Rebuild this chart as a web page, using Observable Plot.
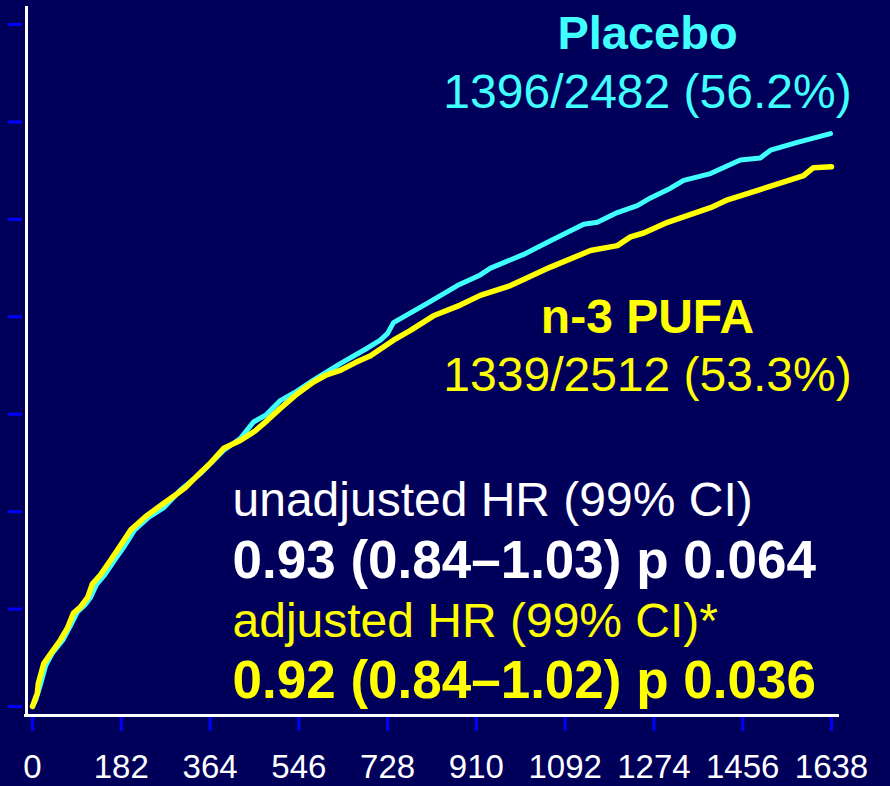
<!DOCTYPE html>
<html><head><meta charset="utf-8">
<script src="https://cdn.jsdelivr.net/npm/d3@7"></script>
<script src="https://cdn.jsdelivr.net/npm/@observablehq/plot@0.6"></script>
<style>
html,body{margin:0;padding:0;background:#00005a;}
#chart svg{display:block;}
</style>
</head><body><div id="chart"></div>
<script>
// ---- data ----
const xTicks = [0, 182, 364, 546, 728, 910, 1092, 1274, 1456, 1638];
const yTicks = [0, 0.1, 0.2, 0.3, 0.4, 0.5, 0.6, 0.7];

const placeboDays = [0, 6, 16, 27, 41, 62, 78, 92, 107, 119, 131, 148, 168, 189, 209, 238, 269, 303, 344, 392, 426, 453, 478, 508, 543, 576, 631, 687, 713, 728, 740, 775, 810, 871, 918, 939, 1007, 1062, 1130, 1158, 1199, 1240, 1267, 1308, 1335, 1390, 1451, 1492, 1513, 1568, 1636];
const placeboRisk = [0, .006, .022, .042, .055, .068, .083, .097, .104, .112, .125, .135, .150, .165, .181, .194, .204, .222, .239, .263, .275, .292, .299, .314, .324, .335, .352, .368, .376, .383, .394, .404, .414, .432, .443, .450, .464, .478, .495, .497, .507, .514, .522, .532, .540, .547, .561, .563, .571, .579, .588];

const pufaDays = [0, 10, 12, 23, 37, 57, 72, 84, 98, 113, 123, 139, 160, 180, 201, 232, 262, 293, 314, 344, 365, 392, 426, 457, 482, 508, 543, 576, 601, 631, 662, 693, 740, 775, 822, 877, 918, 980, 1062, 1144, 1199, 1226, 1253, 1302, 1390, 1425, 1507, 1581, 1601, 1638];
const pufaRisk = [0, .014, .024, .044, .054, .068, .081, .096, .102, .112, .126, .135, .150, .165, .181, .195, .206, .217, .225, .240, .250, .265, .273, .283, .294, .306, .321, .333, .340, .345, .353, .360, .376, .386, .401, .412, .422, .432, .451, .468, .473, .482, .486, .497, .512, .520, .533, .545, .553, .554];

const groupNames = ["Placebo", "n-3 PUFA"];
const groupCounts = ["1396/2482 (56.2%)", "1339/2512 (53.3%)"];
const hrLabels = ["unadjusted HR (99% CI)", "0.93 (0.84–1.03) p 0.064", "adjusted HR (99% CI)*", "0.92 (0.84–1.02) p 0.036"];

// ---- tables ----
const placebo = placeboDays.map((d, i) => ({day: d, risk: placeboRisk[i]}));
const pufa = pufaDays.map((d, i) => ({day: d, risk: pufaRisk[i]}));

const CYAN = "#40ffff", YELLOW = "#ffff00", WHITE = "#ffffff", BLUE = "#0000ff";
const FONT = "Liberation Sans, Arial, sans-serif";

function note(txt, o) {
  return Plot.text([txt], {
    frameAnchor: "top-left", lineAnchor: "bottom",
    fontFamily: FONT, ...o
  });
}

const chart = Plot.plot({
  width: 890,
  height: 786,
  marginLeft: 32,
  marginRight: 59,
  marginTop: 24,
  marginBottom: 80,
  style: {background: "#00005a", color: WHITE, fontFamily: FONT},
  x: {domain: [0, 1638], ticks: xTicks},
  y: {domain: [0, 0.7], ticks: yTicks},
  marks: [
    Plot.axisX({ticks: xTicks, tickSize: 14, dy: 11, tickPadding: 23, stroke: BLUE, strokeWidth: 3,
      fill: WHITE, fontSize: 33, label: null, fontFamily: FONT, tickFormat: d => String(d)}),
    Plot.axisY({ticks: yTicks, tickSize: 14, dx: -10, stroke: BLUE, strokeWidth: 3,
      tickFormat: () => "", label: null}),
    Plot.frame({anchor: "bottom", stroke: WHITE, strokeWidth: 3, insetBottom: -9, insetLeft: -7, insetRight: -6}),
    Plot.frame({anchor: "left", stroke: WHITE, strokeWidth: 3, insetLeft: -6, insetTop: -17, insetBottom: -9}),
    Plot.line(placebo, {x: "day", y: "risk", stroke: CYAN, strokeWidth: 5, strokeLinejoin: "round", strokeLinecap: "round"}),
    Plot.line(pufa, {x: "day", y: "risk", stroke: YELLOW, strokeWidth: 5.5, strokeLinejoin: "round", strokeLinecap: "round"}),
    note(groupNames[0], {dx: 615, dy: 24, textAnchor: "middle", fill: CYAN, fontSize: 47, fontWeight: "bold"}),
    note(groupCounts[0], {dx: 615, dy: 83, textAnchor: "middle", fill: CYAN, fontSize: 48}),
    note(groupNames[1], {dx: 615, dy: 308, textAnchor: "middle", fill: YELLOW, fontSize: 48, fontWeight: "bold"}),
    note(groupCounts[1], {dx: 615, dy: 366, textAnchor: "middle", fill: YELLOW, fontSize: 48}),
    note(hrLabels[0], {dx: 200, dy: 491, textAnchor: "start", fill: WHITE, fontSize: 48}),
    note(hrLabels[1], {dx: 200, dy: 553, textAnchor: "start", fill: WHITE, fontSize: 53, fontWeight: "bold"}),
    note(hrLabels[2], {dx: 200, dy: 612, textAnchor: "start", fill: YELLOW, fontSize: 48}),
    note(hrLabels[3], {dx: 200, dy: 673, textAnchor: "start", fill: YELLOW, fontSize: 53, fontWeight: "bold"})
  ]
});
document.getElementById("chart").appendChild(chart);
</script>
</body></html>
